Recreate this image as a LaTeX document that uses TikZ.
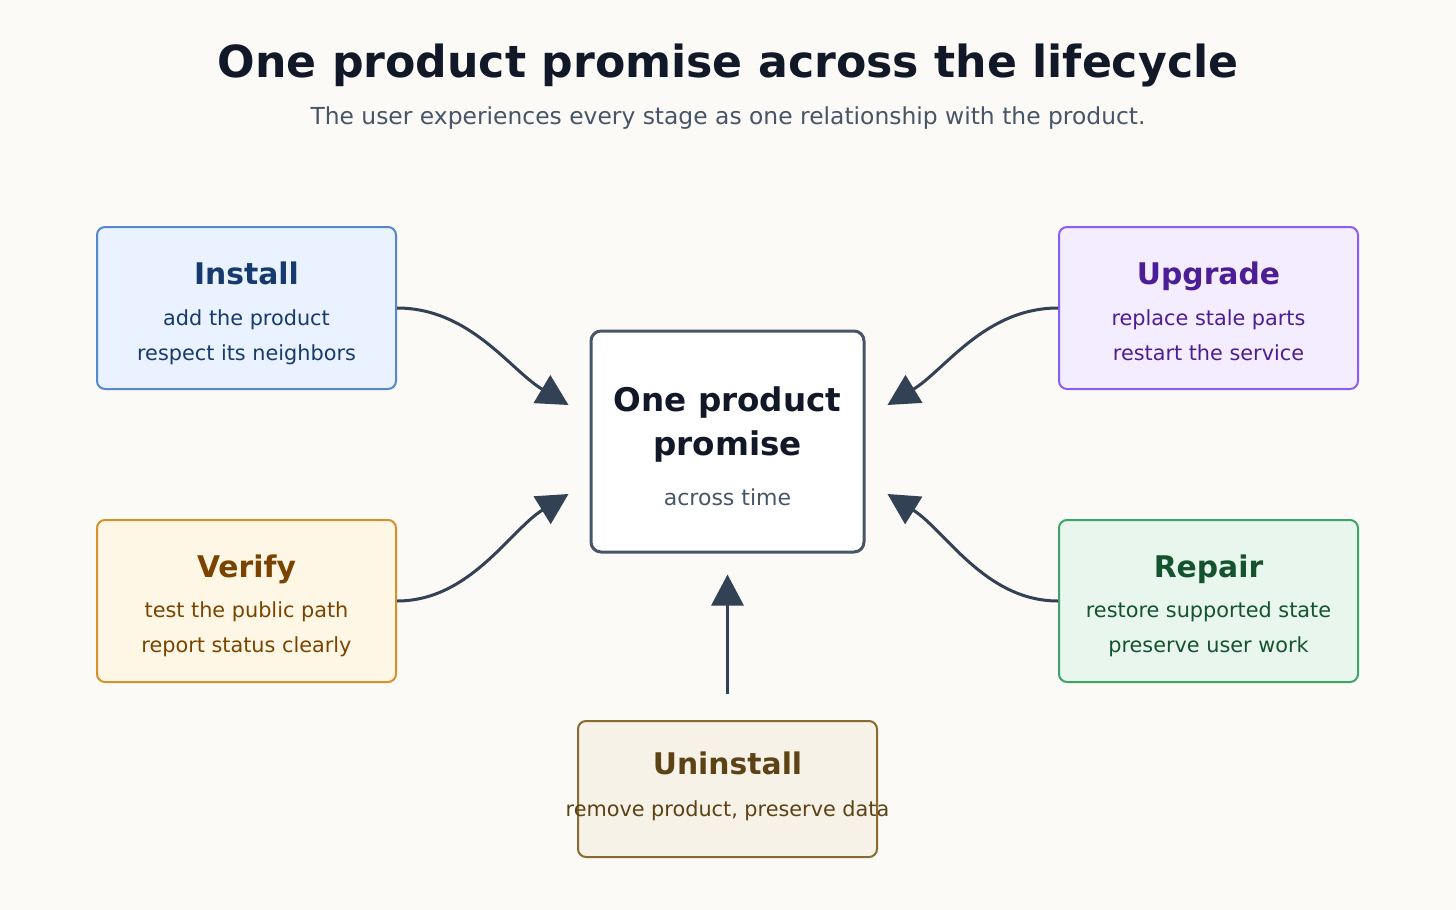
\documentclass[tikz,border=0pt]{standalone}
\usepackage{fontspec}
\setmainfont{DejaVu Sans}
\usetikzlibrary{arrows.meta}

\definecolor{bg}{HTML}{FBFAF6}
\definecolor{ink}{HTML}{334155}
\definecolor{titleink}{HTML}{111827}
\definecolor{subink}{HTML}{475569}
\definecolor{installfill}{HTML}{EAF2FF}
\definecolor{installline}{HTML}{5588CC}
\definecolor{installtext}{HTML}{163A6E}
\definecolor{upgradefill}{HTML}{F3EDFF}
\definecolor{upgradeline}{HTML}{8B5CF6}
\definecolor{upgradetext}{HTML}{4C1D95}
\definecolor{verifyfill}{HTML}{FFF7E6}
\definecolor{verifyline}{HTML}{D4922A}
\definecolor{verifytext}{HTML}{7A4300}
\definecolor{repairfill}{HTML}{E8F6EE}
\definecolor{repairline}{HTML}{3DA56A}
\definecolor{repairtext}{HTML}{14532D}
\definecolor{uninstfill}{HTML}{F7F2E8}
\definecolor{uninstline}{HTML}{8A6A30}
\definecolor{uninsttext}{HTML}{5C4214}

\begin{document}
\begin{tikzpicture}[x=0.5pt,y=-0.5pt,
    stage/.style={draw, line width=1pt, rounded corners=4pt, minimum width=149.5pt, minimum height=81pt, inner sep=0pt},
    head/.style={anchor=base, font=\bfseries\fontsize{14.9}{17}\selectfont},
    note/.style={anchor=base, font=\fontsize{10.4}{12}\selectfont},
    flow/.style={draw=ink, line width=1.5pt, -{Triangle[length=15.5pt,width=16pt]}}]
  \useasboundingbox[fill=bg] (0,0) rectangle (1456,910);

  % title
  \node[anchor=base, text=titleink, font=\bfseries\fontsize{22.1}{26}\selectfont] (title) at (728,77) {One product promise across the lifecycle};
  \node[anchor=base, text=subink, font=\fontsize{11.7}{14}\selectfont] (subtitle) at (728,124) {The user experiences every stage as one relationship with the product.};

  % center
  \node[draw=subink, fill=white, line width=1.5pt, rounded corners=5pt, minimum width=136.5pt, minimum height=110.5pt] (core) at (727.5,441.5) {};
  \node[head, text=titleink, font=\bfseries\fontsize{16.3}{19}\selectfont] at (727.5,411) {One product};
  \node[head, text=titleink, font=\bfseries\fontsize{16.3}{19}\selectfont] at (727.5,455) {promise};
  \node[note, text=subink, font=\fontsize{11}{13}\selectfont] at (727.5,505) {across time};

  % stages
  \node[stage, draw=installline, fill=installfill] (install) at (246.5,308) {};
  \node[head, text=installtext] at (246.5,284) {Install};
  \node[note, text=installtext] at (246.5,325) {add the product};
  \node[note, text=installtext] at (246.5,360) {respect its neighbors};

  \node[stage, draw=upgradeline, fill=upgradefill] (upgrade) at (1208.5,308) {};
  \node[head, text=upgradetext] at (1208.5,284) {Upgrade};
  \node[note, text=upgradetext] at (1208.5,325) {replace stale parts};
  \node[note, text=upgradetext] at (1208.5,360) {restart the service};

  \node[stage, draw=verifyline, fill=verifyfill] (verify) at (246.5,601) {};
  \node[head, text=verifytext] at (246.5,577) {Verify};
  \node[note, text=verifytext] at (246.5,617) {test the public path};
  \node[note, text=verifytext] at (246.5,652) {report status clearly};

  \node[stage, draw=repairline, fill=repairfill] (repair) at (1208.5,601) {};
  \node[head, text=repairtext] at (1208.5,577) {Repair};
  \node[note, text=repairtext] at (1208.5,617) {restore supported state};
  \node[note, text=repairtext] at (1208.5,652) {preserve user work};

  \node[stage, draw=uninstline, fill=uninstfill, minimum height=68pt] (uninstall) at (727.5,789) {};
  \node[head, text=uninsttext] at (727.5,774) {Uninstall};
  \node[note, text=uninsttext] at (727.5,816) {remove product, preserve data};

  % connectors
  \draw[flow] (install.east) .. controls (470,308) and (510,370) .. ([shift={(-21,-36.5)}]core.west);
  \draw[flow] (verify.east) .. controls (470,601) and (510,530) .. ([shift={(-21,52.5)}]core.west);
  \draw[flow] (upgrade.west) .. controls (985,308) and (945,370) .. ([shift={(22,-36.5)}]core.east);
  \draw[flow] (repair.west) .. controls (985,601) and (945,530) .. ([shift={(22,52.5)}]core.east);
  \coordinate (uplift) at ([yshift=13pt]uninstall.north);
  \draw[flow] (uplift) -- ([yshift=-10.5pt]core.south);
\end{tikzpicture}
\end{document}
